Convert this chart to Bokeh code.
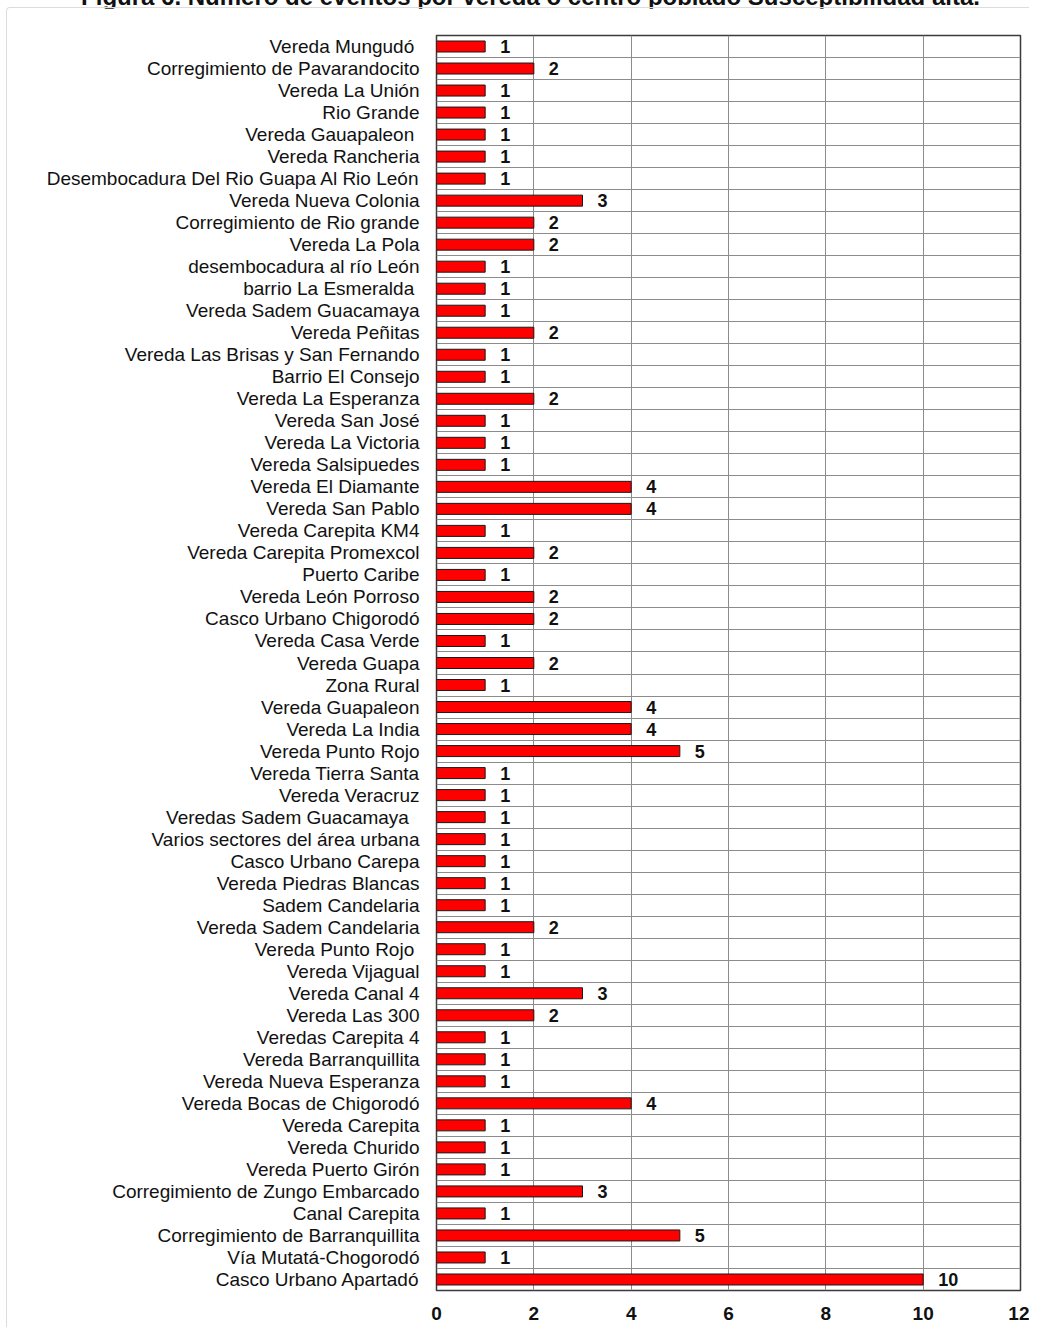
from bokeh.plotting import figure
from bokeh.models import FactorRange, Range1d, ColumnDataSource, FixedTicker, Div
from bokeh.layouts import column
from bokeh.core.properties import value
from bokeh.embed import file_html
from bokeh.resources import INLINE

title_text = "Figura 6. Número de eventos por vereda o centro poblado Susceptibilidad alta."

categories = [
    "Vereda Mungudó ", "Corregimiento de Pavarandocito", "Vereda La Unión", "Rio Grande",
    "Vereda Gauapaleon ", "Vereda Rancheria", "Desembocadura Del Rio Guapa Al Rio León",
    "Vereda Nueva Colonia", "Corregimiento de Rio grande", "Vereda La Pola",
    "desembocadura al río León", "barrio La Esmeralda ", "Vereda Sadem Guacamaya",
    "Vereda Peñitas", "Vereda Las Brisas y San Fernando", "Barrio El Consejo",
    "Vereda La Esperanza", "Vereda San José", "Vereda La Victoria", "Vereda Salsipuedes",
    "Vereda El Diamante", "Vereda San Pablo", "Vereda Carepita KM4", "Vereda Carepita Promexcol",
    "Puerto Caribe", "Vereda León Porroso", "Casco Urbano Chigorodó", "Vereda Casa Verde",
    "Vereda Guapa", "Zona Rural", "Vereda Guapaleon", "Vereda La India", "Vereda Punto Rojo",
    "Vereda Tierra Santa", "Vereda Veracruz", "Veredas  Sadem  Guacamaya",
    "Varios sectores del área urbana", "Casco Urbano Carepa", "Vereda Piedras Blancas",
    "Sadem Candelaria", "Vereda Sadem Candelaria", "Vereda  Punto Rojo", "Vereda Vijagual",
    "Vereda Canal 4", "Vereda Las 300", "Veredas Carepita 4", "Vereda Barranquillita",
    "Vereda Nueva Esperanza", "Vereda Bocas de Chigorodó", "Vereda Carepita", "Vereda Churido",
    "Vereda Puerto Girón", "Corregimiento de Zungo Embarcado", "Canal Carepita",
    "Corregimiento de Barranquillita", "Vía Mutatá-Chogorodó", "Casco Urbano Apartadó",
]
values = [
    1, 2, 1, 1, 1, 1, 1, 3, 2, 2,
    1, 1, 1, 2, 1, 1, 2, 1, 1, 1,
    4, 4, 1, 2, 1, 2, 2, 1, 2, 1,
    4, 4, 5, 1, 1, 1, 1, 1, 1, 1,
    2, 1, 1, 3, 2, 1, 1, 1, 4, 1,
    1, 1, 3, 1, 5, 1, 10,
]
x_ticks = [0, 2, 4, 6, 8, 10, 12]

FONT = "Liberation Sans"

src = ColumnDataSource(dict(cat=categories, v=values, lbl=[str(v) for v in values]))

p = figure(
    width=1023, height=1320,
    y_range=FactorRange(*reversed(categories), range_padding=0),
    x_range=Range1d(0, 12),
    output_backend="svg", toolbar_location=None,
    min_border_left=429, min_border_right=10, min_border_top=27, min_border_bottom=38,
)
p.margin = (0, 0, 0, 6)
p.styles = {"border-left": "1px solid #dcdcdc", "border-top": "1px solid #dcdcdc",
            "border-top-left-radius": "4px"}
p.background_fill_color = "white"
p.border_fill_color = "white"
p.outline_line_color = "#3a3a3a"
p.outline_line_width = 1.5

# horizontal separators between categories
n = len(categories)
p.ygrid.visible = False
p.hspan(y=list(range(1, n)), line_color="#8c8c8c", line_width=1)

p.xgrid.ticker = FixedTicker(ticks=x_ticks)
p.xgrid.grid_line_color = "#8c8c8c"
p.xgrid.grid_line_width = 1

p.hbar(y="cat", right="v", left=0, height=0.5, source=src,
       fill_color="#ff0000", line_color="#1a1a1a", line_width=1)

p.text(x="v", y="cat", text="lbl", source=src, x_offset=15,
       text_baseline="middle", text_align="left",
       text_font=value(FONT), text_font_size="18px", text_font_style="bold",
       text_color="#111111")

p.xaxis.ticker = FixedTicker(ticks=x_ticks)
p.xaxis.axis_line_color = None
p.xaxis.major_tick_line_color = None
p.xaxis.minor_tick_line_color = None
p.xaxis.major_tick_out = 0
p.xaxis.major_tick_in = 0
p.xaxis.major_label_standoff = 16
p.xaxis.major_label_text_font = FONT
p.xaxis.major_label_text_font_size = "19px"
p.xaxis.major_label_text_font_style = "bold"
p.xaxis.major_label_text_color = "#111111"

p.yaxis.axis_line_color = None
p.yaxis.major_tick_line_color = None
p.yaxis.minor_tick_line_color = None
p.yaxis.major_tick_out = 0
p.yaxis.major_tick_in = 0
p.yaxis.major_label_standoff = 17
p.yaxis.major_label_text_font = FONT
p.yaxis.major_label_text_font_size = "19px"
p.yaxis.major_label_text_color = "#111111"

title = Div(
    text=title_text, width=1045, height=7, margin=(0, 0, 0, 0),
    styles={"position": "relative", "top": "-15px", "font-family": FONT,
            "font-weight": "bold", "font-size": "24px", "line-height": "24px",
            "text-align": "center", "color": "#111111", "white-space": "nowrap",
            "overflow": "visible", "padding-left": "16px"},
)

layout = column(title, p, spacing=0)
open("out.html", "w").write(file_html(layout, INLINE))
